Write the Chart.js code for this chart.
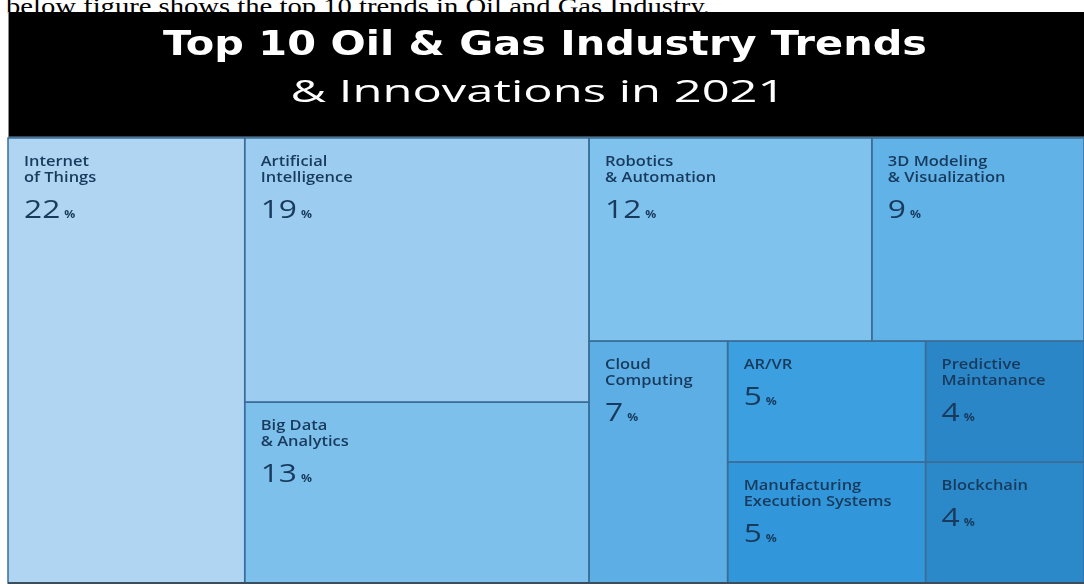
<!DOCTYPE html>
<html>
<head>
<meta charset="utf-8">
<script src="https://cdn.jsdelivr.net/npm/chart.js@4.4.1/dist/chart.umd.min.js"></script>
<style>
html,body{margin:0;padding:0;background:#fff;overflow:hidden}
#wrap{position:relative;width:1084px;height:584px;overflow:hidden}
#caption{position:absolute;left:6px;top:-6px;font-family:"Liberation Serif","Times New Roman",serif;font-size:24px;line-height:24px;white-space:nowrap;color:#000;transform-origin:0 0}
canvas{position:absolute;left:0;top:0}
</style>
</head>
<body>
<div id="wrap">
  <div id="caption">below figure shows the top 10 trends in Oil and Gas Industry.</div>
  <canvas id="c" width="1084" height="584"></canvas>
</div>
<script>
// ---- data ----
const categories = [
  'Internet of Things', 'Artificial Intelligence', 'Big Data & Analytics',
  'Robotics & Automation', '3D Modeling & Visualization', 'Cloud Computing',
  'AR/VR', 'Manufacturing Execution Systems', 'Predictive Maintanance', 'Blockchain'
];
const labelLines = [
  ['Internet', 'of Things'],
  ['Artificial', 'Intelligence'],
  ['Big Data', '& Analytics'],
  ['Robotics', '& Automation'],
  ['3D Modeling', '& Visualization'],
  ['Cloud', 'Computing'],
  ['AR/VR'],
  ['Manufacturing', 'Execution Systems'],
  ['Predictive', 'Maintanance'],
  ['Blockchain']
];
const values = [22, 19, 13, 12, 9, 7, 5, 5, 4, 4];
const cellColors = ['#afd5f2', '#9ccdf0', '#7ec0ec', '#7fc2ee', '#61b2e7',
                    '#5daee4', '#3b9fe0', '#3297da', '#2a86c6', '#2c89c9'];
const titleLine1 = 'Top 10 Oil & Gas Industry Trends';
const titleLine2 = '& Innovations in 2021';
const percentSign = '%';

// treemap nesting (indices into the arrays above); sizes come from values
const layoutTree = {dir: 'h', children: [
  0,
  {dir: 'v', children: [1, 2]},
  {dir: 'v', children: [
    {dir: 'h', children: [3, 4]},
    {dir: 'h', children: [5, {dir: 'v', children: [6, 7]}, {dir: 'v', children: [8, 9]}]}
  ]}
]};

function nodeSum(n) { return typeof n === 'number' ? values[n] : n.children.reduce((s, c) => s + nodeSum(c), 0); }
function layout(n, x0, y0, x1, y1, out) {
  if (typeof n === 'number') { out[n] = {x0, y0, x1, y1}; return out; }
  const tot = nodeSum(n);
  let p = n.dir === 'h' ? x0 : y0;
  n.children.forEach(c => {
    const f = nodeSum(c) / tot;
    if (n.dir === 'h') { const w = (x1 - x0) * f; layout(c, p, y0, p + w, y1, out); p += w; }
    else { const h = (y1 - y0) * f; layout(c, x0, p, x1, p + h, out); p += h; }
  });
  return out;
}
const cells = layout(layoutTree, 0, 0, 100, 100, []);

// caption width match
(function () {
  const cap = document.getElementById('caption');
  const w = cap.getBoundingClientRect().width;
  cap.style.transform = 'scaleX(' + (704 / w) + ')';
})();

function stretchText(ctx, text, x, y, font, sx, align) {
  ctx.save();
  ctx.font = font;
  const w = ctx.measureText(text).width * sx;
  let ox = x;
  if (align === 'center') ox = x - w / 2;
  ctx.translate(ox, y);
  ctx.scale(sx, 1);
  ctx.textAlign = 'left';
  ctx.textBaseline = 'alphabetic';
  ctx.fillText(text, 0, 0);
  ctx.restore();
  return w;
}
function fitText(ctx, text, x, y, font, width) {
  ctx.save();
  ctx.font = font;
  const m = ctx.measureText(text).width;
  ctx.restore();
  return stretchText(ctx, text, x, y, font, width / m, 'center');
}

const headerPlugin = {
  id: 'header',
  beforeDraw(chart) {
    const ctx = chart.ctx;
    const top = chart.chartArea.top;
    ctx.save();
    ctx.fillStyle = '#000';
    ctx.fillRect(8, 12, chart.width - 8, top - 12);
    ctx.fillStyle = '#6f8ea4';
    ctx.fillRect(8, top - 1.5, chart.width - 8, 1.5);
    ctx.fillStyle = '#8a8a8a';
    ctx.fillRect(8, 12, 1, top - 12);
    ctx.fillStyle = '#ffffff';
    fitText(ctx, titleLine1, 545, 55, "bold 33px 'DejaVu Sans'", 764);
    fitText(ctx, titleLine2, 538, 102, "31px 'Open Sans'", 495);
    ctx.restore();
  }
};

const treemapPlugin = {
  id: 'treemap',
  afterDatasetsDraw(chart) {
    const ctx = chart.ctx;
    const xs = chart.scales.x, ys = chart.scales.y;
    const sx = 1.22;
    ctx.save();
    cells.forEach((c, i) => {
      const px0 = xs.getPixelForValue(c.x0), px1 = xs.getPixelForValue(c.x1);
      const py0 = ys.getPixelForValue(c.y0), py1 = ys.getPixelForValue(c.y1);
      ctx.fillStyle = cellColors[i];
      ctx.fillRect(px0, py0, px1 - px0, py1 - py0);
    });
    cells.forEach((c, i) => {
      const px0 = xs.getPixelForValue(c.x0), px1 = xs.getPixelForValue(c.x1);
      const py0 = ys.getPixelForValue(c.y0), py1 = ys.getPixelForValue(c.y1);
      ctx.strokeStyle = '#3a6e99';
      ctx.lineWidth = 1.5;
      ctx.strokeRect(px0, py0, px1 - px0, py1 - py0);
      ctx.fillStyle = '#183a5c';
      const tx = px0 + 16;
      let by = py0 + 28;
      labelLines[i].forEach((ln, k) => {
        stretchText(ctx, ln, tx, by + k * 16, "600 13.5px 'Open Sans'", sx);
      });
      const vy = by + (labelLines[i].length - 1) * 16 + 36;
      const w = stretchText(ctx, String(values[i]), tx, vy, "500 26px 'Open Sans'", sx);
      stretchText(ctx, percentSign, tx + w + 4, vy, "bold 10px 'Open Sans'", sx);
    });
    const b = ys.getPixelForValue(100);
    ctx.fillStyle = '#3c4d5c';
    ctx.fillRect(8, b - 1, chart.width - 8, 2);
    ctx.restore();
  }
};

const chart = new Chart(document.getElementById('c'), {
  type: 'scatter',
  data: {
    datasets: [{
      label: 'cells',
      data: cells.map((c, i) => ({x: (c.x0 + c.x1) / 2, y: (c.y0 + c.y1) / 2, v: values[i]})),
      pointRadius: 0, pointHoverRadius: 0
    }]
  },
  options: {
    responsive: false,
    animation: false,
    events: [],
    layout: {padding: {left: 8, right: 0, top: 138, bottom: 1}},
    scales: {
      x: {type: 'linear', min: 0, max: 100, display: false},
      y: {type: 'linear', min: 0, max: 100, reverse: true, display: false}
    },
    plugins: {legend: {display: false}, tooltip: {enabled: false}, title: {display: false}}
  },
  plugins: [headerPlugin, treemapPlugin]
});
</script>
</body>
</html>
